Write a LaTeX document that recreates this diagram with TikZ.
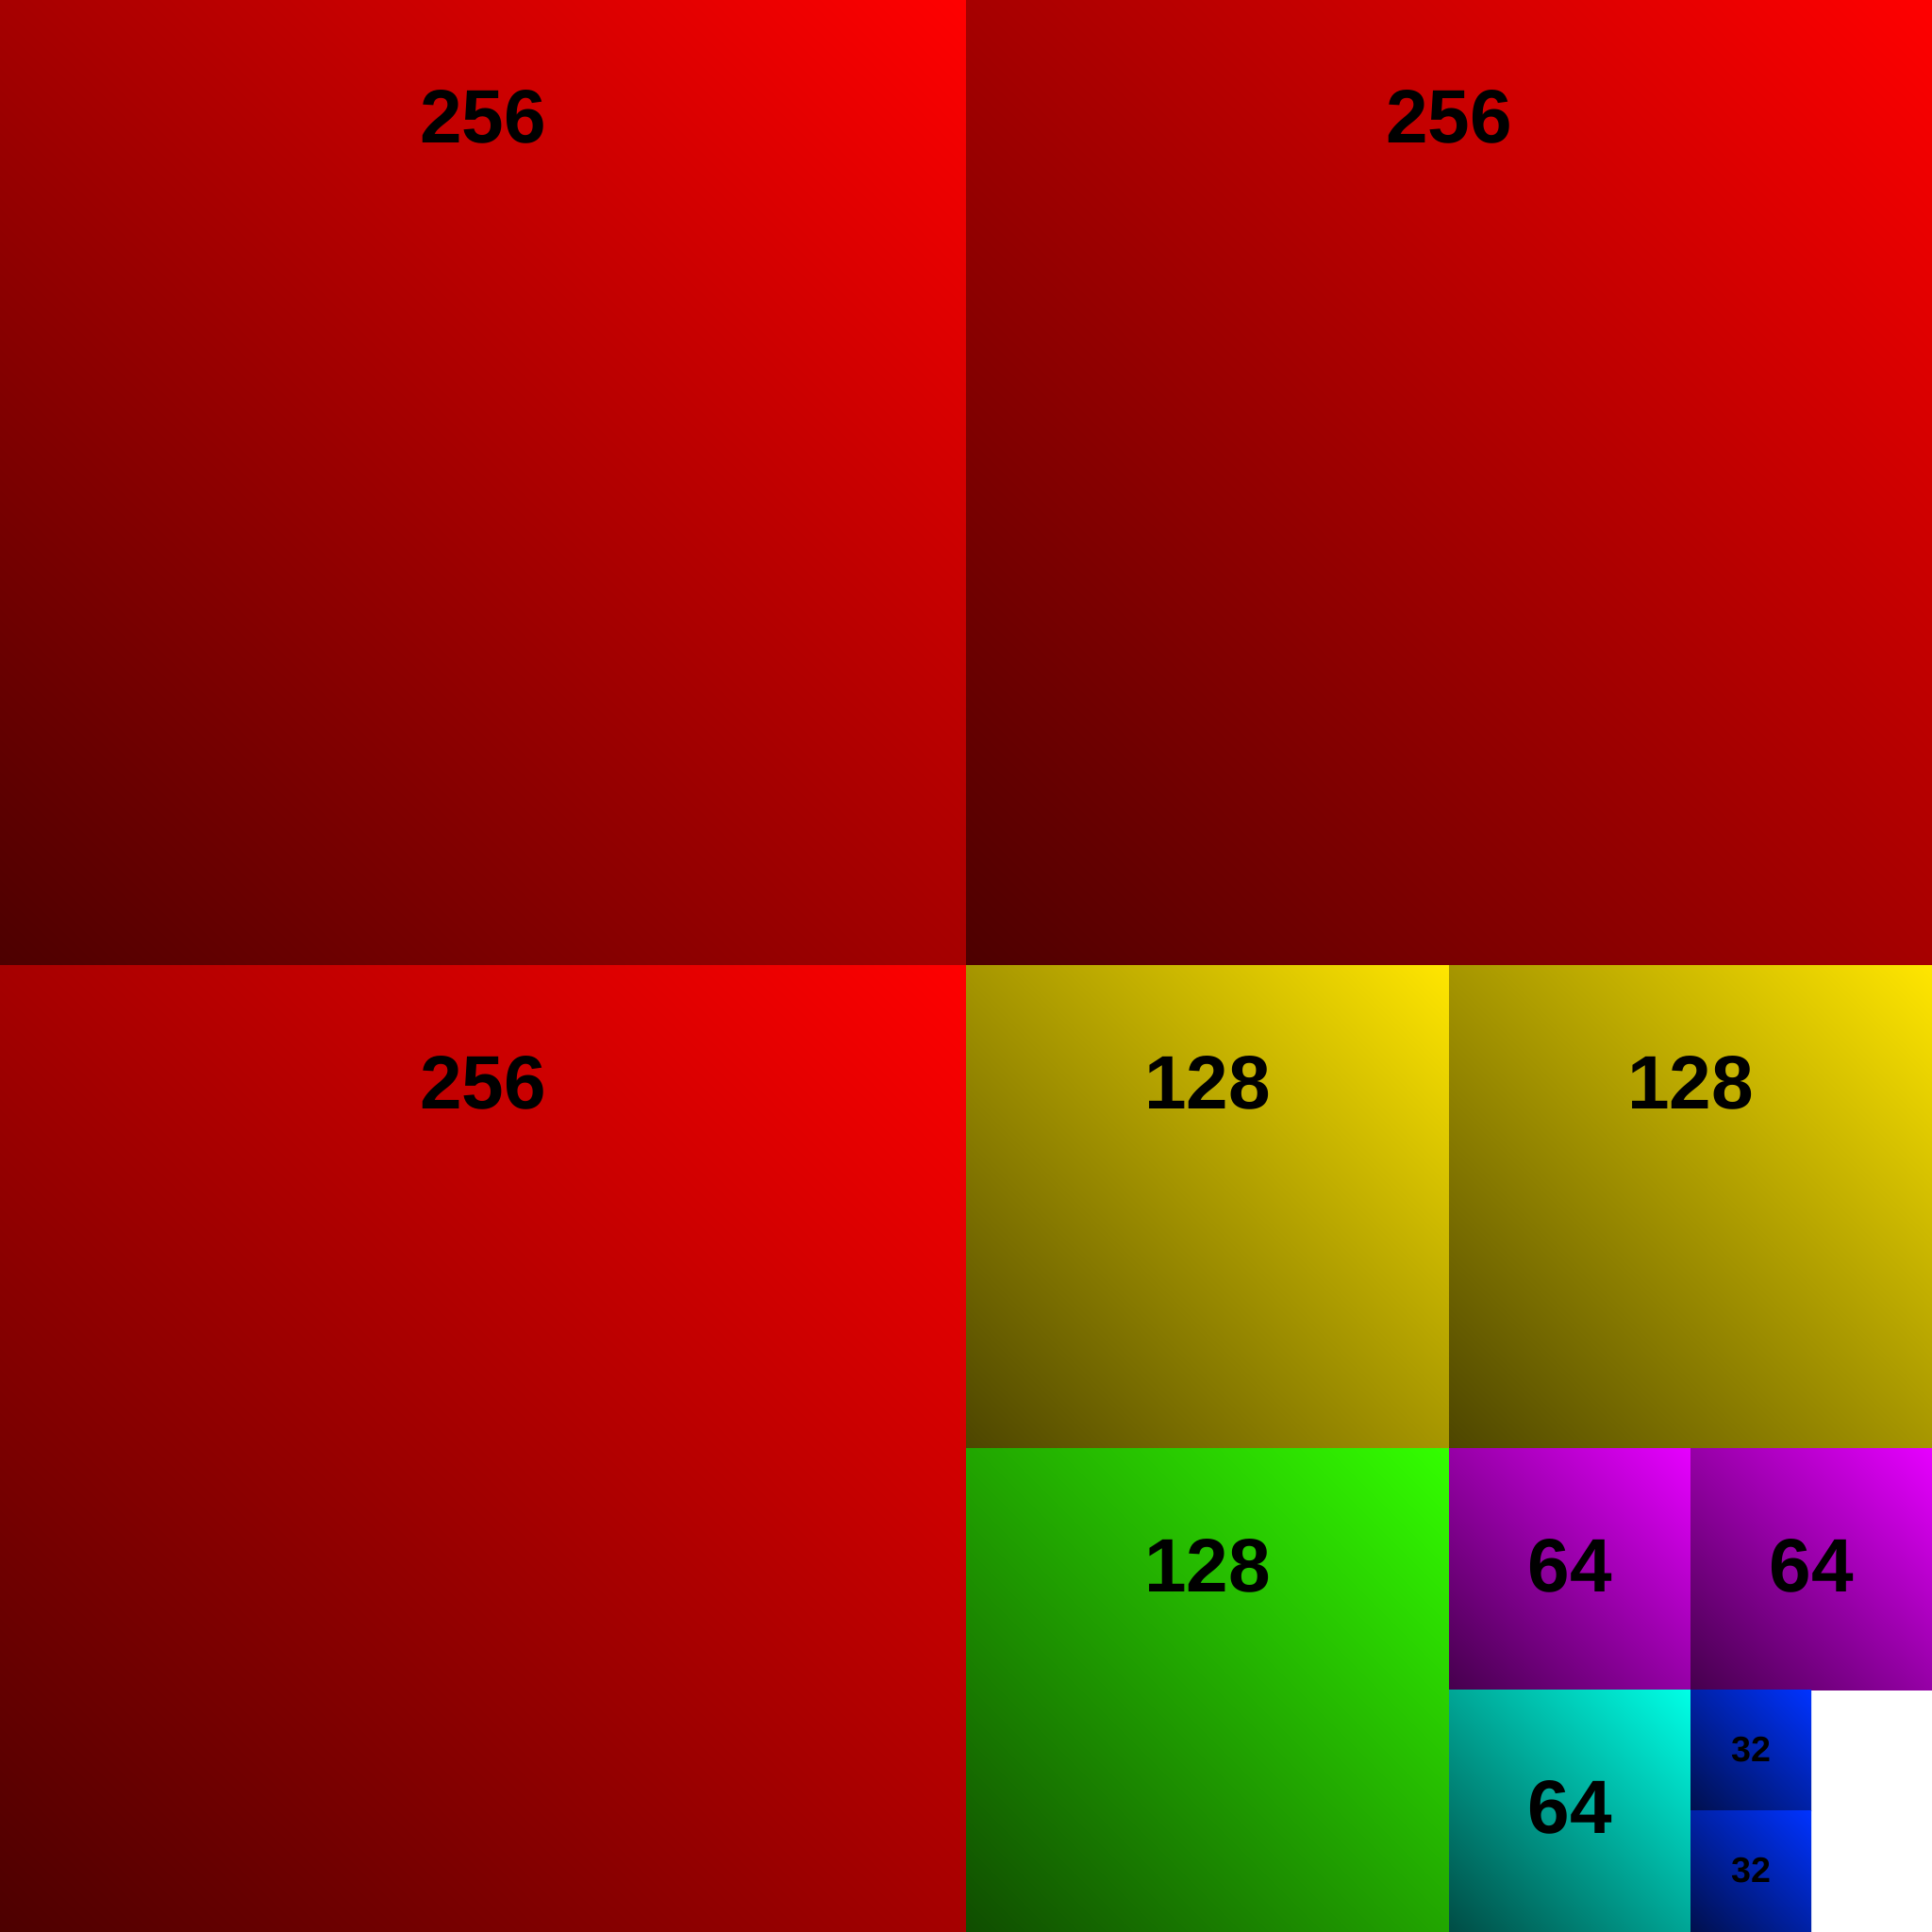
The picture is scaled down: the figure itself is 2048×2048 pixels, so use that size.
\documentclass[tikz,border=0pt]{standalone}
\usepackage{fontspec}
\setmainfont{Liberation Sans}
\usetikzlibrary{shadings}
\definecolor{cR}{RGB}{255,0,0}
\definecolor{cY}{RGB}{255,230,0}
\definecolor{cG}{RGB}{51,255,0}
\definecolor{cM}{RGB}{230,0,255}
\definecolor{cC}{RGB}{0,255,230}
\definecolor{cB}{RGB}{0,51,255}
\begin{document}
\begin{tikzpicture}[x=0.01cm,y=0.01cm,
  sq/.style={shading=bilinear interpolation, lower left=#1!30!black, upper right=#1, upper left=#1!65!black, lower right=#1!65!black},
  lbl/.style={font=\fontsize{22.8pt}{24pt}\selectfont\bfseries, anchor=base, inner sep=0pt, text=black},
  lbls/.style={font=\fontsize{10.7pt}{12pt}\selectfont\bfseries, anchor=base, inner sep=0pt, text=black}]
\fill[white] (0,0) rectangle (2048,2048);
\useasboundingbox (0,0) rectangle (2048,2048);
% 256 tiles
\shade[sq=cR] (0,1024) rectangle (1024,2048);
\node[lbl] (tA) at (512,1896) {256};
\shade[sq=cR] (1024,1024) rectangle (2048,2048);
\node[lbl] (tB) at (1536,1896) {256};
\shade[sq=cR] (0,0) rectangle (1024,1024);
\node[lbl] (tC) at (512,872) {256};
% 128 tiles
\shade[sq=cY] (1024,512) rectangle (1536,1024);
\node[lbl] (tD) at (1280,872) {128};
\shade[sq=cY] (1536,512) rectangle (2048,1024);
\node[lbl] (tE) at (1792,872) {128};
\shade[sq=cG] (1024,0) rectangle (1536,512);
\node[lbl] (tF) at (1280,360) {128};
% 64 tiles
\shade[sq=cM] (1536,256) rectangle (1792,512);
\node[lbl] (tG) at (1664,360) {64};
\shade[sq=cM] (1792,256) rectangle (2048,512);
\node[lbl] (tH) at (1920,360) {64};
\shade[sq=cC] (1536,0) rectangle (1792,256);
\node[lbl] (tI) at (1664,104) {64};
% 32 tiles
\shade[sq=cB] (1792,128) rectangle (1920,256);
\node[lbls] (tJ) at (1856,180) {32};
\shade[sq=cB] (1792,0) rectangle (1920,128);
\node[lbls] (tK) at (1856,52) {32};
\end{tikzpicture}
\end{document}
